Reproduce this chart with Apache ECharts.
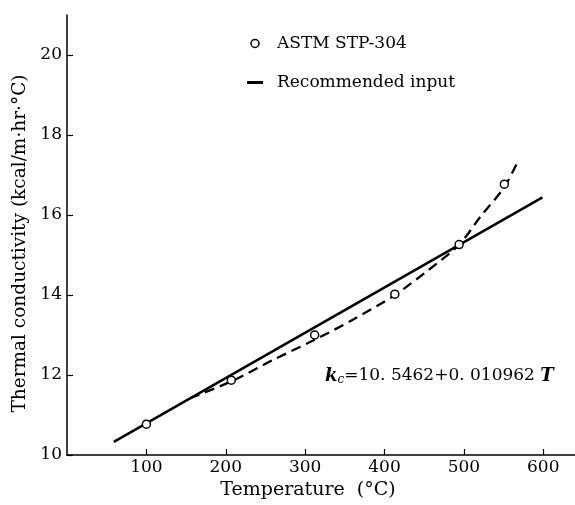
<!DOCTYPE html>
<html>
<head>
<meta charset="utf-8">
<script src="https://cdn.jsdelivr.net/npm/echarts@6/dist/echarts.min.js"></script>
<style>
  * { margin: 0; padding: 0; }
  #chart-container { width: 575px; height: 505px; background: #fff; }
</style>
</head>
<body>
<div id="chart-container"></div>
<script>
  // ASTM STP-304 points (open circles)
  var astmT = [100, 207, 312, 413, 494, 551]
  var astmK = [10.77, 11.87, 13.0, 14.02, 15.26, 16.77]
  // recommended input (solid line)
  var recT = [59, 599]
  var recK = [10.33, 16.44]
  // dashed curve through the ASTM data
  var curveT = [155, 207, 260, 312, 360, 413, 455, 494, 521, 551, 569]
  var curveK = [11.42, 11.84, 12.38, 12.88, 13.38, 14.0, 14.62, 15.26, 15.96, 16.7, 17.38]
  // tick labels
  var xTicks = [100, 200, 300, 400, 500, 600]
  var yTicks = [10, 12, 14, 16, 18, 20]

  function pairs(xs, ys) {
    return xs.map(function (x, i) { return [x, ys[i]] })
  }

  var font = 'DejaVu Serif'
  var chartDom = document.getElementById('chart-container')
  var myChart = echarts.init(chartDom, null, { renderer: 'canvas' })
  var option = {
    animation: false,
    grid: { left: 67, right: 0, top: 15, bottom: 50 },
    legend: {
      orient: 'vertical',
      left: 242,
      top: 30,
      itemGap: 22,
      itemWidth: 16,
      itemHeight: 8,
      textStyle: { fontFamily: font, fontSize: 17, color: '#000', padding: [0, 0, 0, 9] },
      data: [
        { name: 'ASTM STP-304', icon: 'circle', itemStyle: { color: '#fff', borderColor: '#000', borderWidth: 1.5 } },
        { name: 'Recommended input', icon: 'path://M0,0 H16 V3 H0 Z', itemStyle: { color: '#000', borderWidth: 0 } },
      ],
    },
    xAxis: {
      type: 'value',
      min: 0,
      max: 640,
      name: 'Temperature  (°C)',
      nameLocation: 'middle',
      nameGap: 24,
      nameTextStyle: { fontFamily: font, fontSize: 19, color: '#000', padding: [0, 26, 0, 0] },
      axisLine: { onZero: false, lineStyle: { color: '#000', width: 1.5 } },
      axisTick: { inside: true, length: 6, customValues: xTicks, lineStyle: { color: '#000', width: 1.2 } },
      axisLabel: { customValues: xTicks, margin: 4, fontFamily: font, fontSize: 17, color: '#000' },
      splitLine: { show: false },
    },
    yAxis: {
      type: 'value',
      min: 10,
      max: 21,
      name: 'Thermal conductivity (kcal/m·hr·°C)',
      nameLocation: 'middle',
      nameGap: 35,
      nameTextStyle: { fontFamily: font, fontSize: 18.5, color: '#000', padding: [0, 17, 0, 0] },
      axisLine: { onZero: false, lineStyle: { color: '#000', width: 1.5 } },
      axisTick: { inside: true, length: 6, customValues: yTicks, lineStyle: { color: '#000', width: 1.2 } },
      axisLabel: { customValues: yTicks, margin: 5, fontFamily: font, fontSize: 17, color: '#000' },
      splitLine: { show: false },
    },
    graphic: [
      {
        type: 'text',
        left: 325,
        top: 367,
        style: {
          text: '{k|k}{c|c}{n|=10. 5462+0. 010962 }{k|T}',
          rich: {
            k: { fontFamily: font, fontStyle: 'italic', fontWeight: 'bold', fontSize: 18, fill: '#000' },
            c: { fontFamily: font, fontStyle: 'italic', fontSize: 12, fill: '#000', padding: [8, 0, 0, 0] },
            n: { fontFamily: font, fontSize: 17, fill: '#000' },
          },
        },
      },
    ],
    series: [
      {
        name: 'Recommended input',
        type: 'line',
        data: pairs(recT, recK),
        symbol: 'none',
        itemStyle: { color: '#000' },
        lineStyle: { color: '#000', width: 2.5 },
        z: 2,
      },
      {
        name: 'curve',
        type: 'line',
        data: pairs(curveT, curveK),
        symbol: 'none',
        smooth: 0.3,
        itemStyle: { color: '#000' },
        lineStyle: { color: '#000', width: 2.3, type: [10, 6] },
        z: 2,
      },
      {
        name: 'ASTM STP-304',
        type: 'scatter',
        data: pairs(astmT, astmK),
        symbol: 'circle',
        symbolSize: 8,
        itemStyle: { color: '#fff', borderColor: '#000', borderWidth: 1.5, opacity: 1 },
        z: 5,
      },
    ],
  }
  myChart.setOption(option)
  window.addEventListener('resize', myChart.resize)
</script>
</body>
</html>
